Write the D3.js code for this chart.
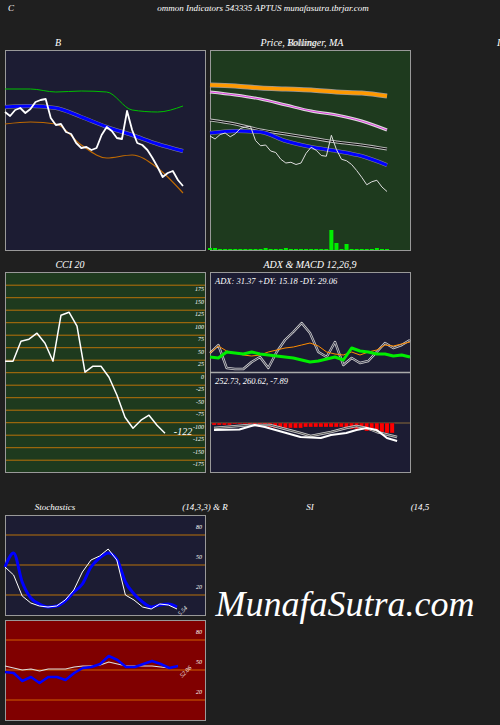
<!DOCTYPE html>
<html><head><meta charset="utf-8">
<script src="https://cdn.jsdelivr.net/npm/d3@7"></script>
<style>body{margin:0;background:#1f1f1f}svg text{font-family:"Liberation Serif",serif;font-style:italic;fill:#fff}</style>
</head><body><svg id="c" width="500" height="725"></svg>
<script>
// ---- data ----
const closePrice=[288,284,290,292,287,291,298,300,301,282,275,276,268,266,257,252,253,250,252,265,273,269,262,261,289,270,257,255,250,242,233,223,227,229,220,214];
const smoothT=[0,5,10,15,20,25,30,35];
const bbMid=[293,294,292,283,273,265,256,249];
const bbUp=[311,311,308,309,308,290,288,294];
const bbLow=[276,278,276,255,242,245,232,207];
const ma200=[356,354.7,352,350.7,349.3,346.7,345.3,341.3];
const ma100=[346.7,342.7,337.3,329.3,321.3,316,308,296];
const ma50=[309.3,304,296,290.7,285.3,280,276,270.7];
const ma20=[292,294.7,293.3,281.3,273.3,268,261.3,249.3];
const volume=[2,2,1,1,1,1,1,1,1,1,1,2,1,1,1,2,1,1,1,1,1,1,1,1,20,7,1,6,1,1,1,1,1,2,1,1];
const cci=[23,23,63,67,79,59,23,115,121,93,1,13,13,-9,-45,-89,-111,-95,-85,-105,-121];
const cciTicks=[175,150,125,100,75,50,25,0,-25,-50,-75,-100,-125,-150,-175];
const adx=[15,14,20,19,18,20,18,17,16,15,14,12,10,11,13,15,12,24,21,20,18,18,16,17,15];
const pdi=[19,26,21,19,17,16,17,20,22,24,25,27,29,26,20,18,17,20,17,20,22,27,26,28,30];
const mdi=[19,27,4,3,3,10,15,4,20,32,40,49,39,20,15,30,7,14,9,11,20,29,24,27,32];
const macdHist=[-2,-2,-2,-2,-1,-1,-1,-2,-3,-4,-4,-4,-5,-5,-5,-5,-5,-5,-4,-4,-4,-4,-4,-4,-4,-4,-5,-6,-6,-7,-8,-8,-9,-9,-10,-10];
const macdT=[0,5,8,10,17,21,23,26,28,30,32,34,36];
const macdLine=[-7,-6.5,-2,-4,-14,-15,-12,-10,-7,-5,-7,-15,-18];
const sigT=[0,7,11,17,19,23,26,28,30,32,36];
const sigLine=[-5,-2,-2,-10,-13,-9,-5,-3,-5,-9,-14];
const stochD=[48,62,33,17,11,8,9,14,23,31,48,57,62,56,33,21,13,8,10,11,8];
const stochK=[48,40,19,12,9,8,9,15,25,43,55,59,66,55,20,15,8,6,11,10,6];
const rsi=[48,47,39,43,37,43,43,40,47,52,53,56,64,60,53,53,56,59,56,52,54];
const mfi=[54,52,50,51,49,51,51,51,53,54,54,55,58,56,54,54,54,54,53,52,54];
const oscTicks=[80,50,20];
// ---- drawing ----
const svg=d3.select("#c");
function txt(x,y,s,size,anchor){return svg.append("text").attr("x",x).attr("y",y).attr("font-size",size).attr("text-anchor",anchor||"start").text(s);}
function panel(x,y,w,h,fill){svg.append("rect").attr("x",x+.5).attr("y",y+.5).attr("width",w).attr("height",h).attr("fill",fill).attr("stroke","#999").attr("stroke-width",1);}
function line(data,xs,ys,xf,color,width,curve){
  svg.append("path").datum(data).attr("fill","none").attr("stroke",color).attr("stroke-width",width).attr("stroke-linejoin","round")
   .attr("d",d3.line().x((d,i)=>xs(xf(i))).y(d=>ys(d)).curve(curve||d3.curveLinear));}
function dbl(data,xs,ys,xf,c1,c2,w,curve){line(data,xs,ys,xf,c1,w,curve);line(data,xs,ys,xf,c2,w/3,curve);}

txt(8,11,"C",9);
txt(263,11,"ommon  Indicators 543335 APTUS munafasutra.tbrjar.com",9,"middle");
txt(58,46,"B",10,"middle");
txt(302,46,"Price,  Bollinger,  MA",10,"middle");
txt(302,46,"Volume",10,"middle").style("opacity",0.6);
txt(497,46,"I",10,"start");

// Panel 1 Bollinger
panel(5,50,200,200,"#1c1c33");
const x1=d3.scaleLinear().domain([0,35]).range([5,183]);
const y1=d3.scaleLinear().domain([350,150]).range([50,250]);
const ti=i=>smoothT[i];
line(bbUp,x1,y1,ti,"#00c000",1,d3.curveMonotoneX);
line(bbLow,x1,y1,ti,"#c06a00",1.2,d3.curveMonotoneX);
line(bbMid,x1,y1,ti,"#888",4,d3.curveMonotoneX);
line(bbMid,x1,y1,ti,"#0000ff",3,d3.curveMonotoneX);
line(closePrice,x1,y1,i=>i,"#fff",1.8);

// Panel 2 Price MA
panel(210,50,200,200,"#1e3a1e");
const x2=d3.scaleLinear().domain([0,35]).range([210,387]);
const y2=d3.scaleLinear().domain([402.7,136]).range([50,250]);
line(ma200,x2,y2,ti,"#999",5,d3.curveMonotoneX);
line(ma200,x2,y2,ti,"#ff9900",3.5,d3.curveMonotoneX);
dbl(ma100,x2,y2,ti,"#ddd","#e040e0",3,d3.curveMonotoneX);
dbl(ma50,x2,y2,ti,"#bbb","#000",3,d3.curveMonotoneX);
line(ma20,x2,y2,ti,"#888",4,d3.curveMonotoneX);
line(ma20,x2,y2,ti,"#0000ff",3,d3.curveMonotoneX);
line(closePrice,x2,y2,i=>i,"#ddd",1);
const yv=d3.scaleLinear().domain([0,20]).range([250,230]);
svg.append("g").selectAll("rect").data(volume).join("rect")
 .attr("x",(d,i)=>x2(i)-2).attr("width",4).attr("y",d=>yv(d)).attr("height",d=>250-yv(d)).attr("fill","#00ee00");

// CCI
txt(70,268,"CCI 20",10,"middle");
panel(5,272,200,200,"#1e3a1e");
const yc=d3.scaleLinear().domain([-198.6,201.4]).range([472,272]);
cciTicks.forEach(v=>{svg.append("line").attr("x1",6).attr("x2",205).attr("y1",yc(v)).attr("y2",yc(v)).attr("stroke","#b8700a").attr("stroke-width",1);
 txt(204,yc(v)+6,v,6,"end");});
const xc=d3.scaleLinear().domain([0,20]).range([5,165]);
line(cci,xc,yc,i=>i,"#fff",1.5);
txt(183,435,"-122",10,"middle");

// ADX
txt(310,268,"ADX   & MACD 12,26,9",10,"middle");
panel(210,272,200,100,"#1c1c33");
const xa=d3.scaleLinear().domain([0,24]).range([210,410]);
const ya=d3.scaleLinear().domain([0,100]).range([372,272]);
dbl(mdi,xa,ya,i=>i,"#ccc","#1c1c33",2.4);
line(pdi,xa,ya,i=>i,"#ff8c00",1);
line(adx,xa,ya,i=>i,"#00ee00",3);
txt(215,284,"ADX: 31.37 +DY: 15.18  -DY: 29.06",8.5);

// MACD
panel(210,372,200,100,"#1c1c33");
const ym=d3.scaleLinear().domain([-49,51]).range([472,372]);
const xm=d3.scaleLinear().domain([0,35]).range([214,392]);
svg.append("line").attr("x1",211).attr("x2",410).attr("y1",ym(0)).attr("y2",ym(0)).attr("stroke","#8a6a3a");
svg.append("g").selectAll("rect").data(macdHist).join("rect")
 .attr("x",(d,i)=>xm(i)-2).attr("width",4.2).attr("y",ym(0)).attr("height",d=>ym(d)-ym(0)).attr("fill","#ff0000").attr("stroke","#1c1c33").attr("stroke-width",0.3);
dbl(sigLine,xm,ym,i=>sigT[i],"#ccc","#333",2.4);
line(macdLine,xm,ym,i=>macdT[i],"#fff",2);
txt(215,384,"252.73,  260.62,  -7.89",8.5);
svg.append("line").attr("x1",210).attr("x2",410).attr("y1",372.5).attr("y2",372.5).attr("stroke","#aaa").attr("stroke-width",1.5);

// Stochastics
txt(55,510,"Stochastics",9,"middle");
txt(205,510,"(14,3,3) & R",9,"middle");
txt(310,510,"SI",9,"middle");
txt(420,510,"(14,5",9,"middle");
panel(5,515,200,100,"#1c1c33");
const ys=d3.scaleLinear().domain([0,100]).range([615,515]);
const xs=d3.scaleLinear().domain([0,20]).range([5,177]);
oscTicks.forEach(v=>{svg.append("line").attr("x1",6).attr("x2",205).attr("y1",ys(v)).attr("y2",ys(v)).attr("stroke","#b8700a");txt(202,ys(v)-6,v,6,"end");});
line(stochD,xs,ys,i=>i,"#0000ff",3,d3.curveMonotoneX);
line(stochK,xs,ys,i=>i,"#fff",1);
txt(0,0,"5.54",6,"middle").attr("transform","translate(184,612) rotate(-45)");

// RSI
panel(5,620,200,100,"#800000");
const yr=d3.scaleLinear().domain([0,100]).range([720,620]);
const xr=d3.scaleLinear().domain([0,20]).range([5,178]);
oscTicks.forEach(v=>{svg.append("line").attr("x1",6).attr("x2",205).attr("y1",yr(v)).attr("y2",yr(v)).attr("stroke","#d06000");txt(202,yr(v)-6,v,6,"end");});
line(mfi,xr,yr,i=>i,"#ddd",1.2);
line(rsi,xr,yr,i=>i,"#0000ff",2.5);
txt(0,0,"52.06",6,"middle").attr("transform","translate(187,673) rotate(-45)");

txt(345,616,"MunafaSutra.com",36,"middle");
</script></body></html>
